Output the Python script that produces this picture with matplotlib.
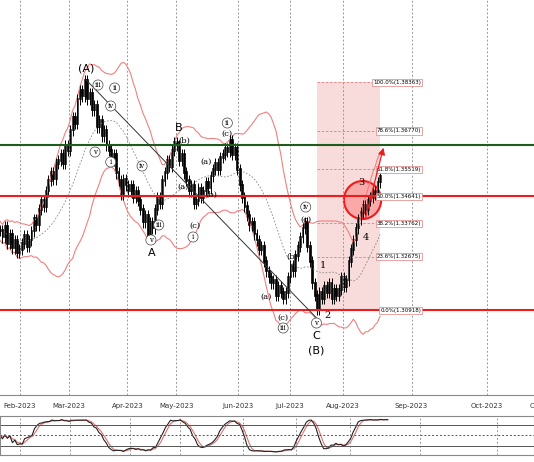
import matplotlib
matplotlib.use("Agg")
import matplotlib.pyplot as plt
from matplotlib.patches import Rectangle, Ellipse
import numpy as np
import pandas as pd

# daily closes
closes = [1.3352, 1.3330, 1.3365, 1.3310, 1.3340, 1.3295, 1.3320, 1.3280, 1.3290,
          1.3310, 1.3335, 1.3300, 1.3320, 1.3350, 1.3390, 1.3370, 1.3420,
          1.3450, 1.3430, 1.3480, 1.3515, 1.3540, 1.3520, 1.3570, 1.3580,
          1.3600, 1.3570, 1.3630, 1.3613, 1.3680, 1.3720, 1.3700, 1.3780,
          1.3810, 1.3790, 1.3840, 1.3780, 1.3800, 1.3745, 1.3760, 1.3690, 1.3712,
          1.3660, 1.3680, 1.3630, 1.3613, 1.3580, 1.3600, 1.3540, 1.3515,
          1.3470, 1.3520, 1.3500, 1.3480, 1.3500, 1.3460, 1.3480, 1.3450,
          1.3420, 1.3380, 1.3400, 1.3336, 1.3380, 1.3360, 1.3420,
          1.3460, 1.3440, 1.3515, 1.3540, 1.3580, 1.3560, 1.3613, 1.3640, 1.3630,
          1.3580, 1.3600, 1.3540, 1.3515, 1.3480, 1.3500, 1.3440, 1.3450,
          1.3490, 1.3460, 1.3480, 1.3510, 1.3490, 1.3530, 1.3550,
          1.3570, 1.3550, 1.3590, 1.3600, 1.3620, 1.3610, 1.3646,
          1.3600, 1.3620, 1.3550, 1.3500, 1.3460, 1.3430, 1.3401,
          1.3370, 1.3380, 1.3340, 1.3320, 1.3290, 1.3300, 1.3250, 1.3220,
          1.3200, 1.3180, 1.3190, 1.3140, 1.3170, 1.3150, 1.3130, 1.3150,
          1.3200, 1.3240, 1.3220, 1.3270, 1.3300, 1.3330, 1.3360, 1.3380,
          1.3300, 1.3250, 1.3180, 1.3140, 1.3095, 1.3150, 1.3130, 1.3170, 1.3150,
          1.3180, 1.3130, 1.3160, 1.3140, 1.3160, 1.3200, 1.3170, 1.3190,
          1.3250, 1.3290, 1.3320, 1.3360, 1.3390, 1.3410, 1.3434,
          1.3420, 1.3450, 1.3460, 1.3480, 1.3470, 1.3510, 1.3530]

months = ["Feb-2023", "Mar-2023", "Apr-2023", "May-2023", "Jun-2023",
          "Jul-2023", "Aug-2023", "Sep-2023", "Oct-2023", "Oc"]
month_px = [20, 70, 130, 180, 243, 296, 350, 420, 497, 545]

fib_pct = ["100.0%", "78.6%", "61.8%", "50.0%", "38.2%", "23.6%", "0.0%"]
fib_price = [1.38363, 1.36770, 1.35519, 1.34641, 1.33762, 1.32675, 1.30918]
green_level = 1.3630
red_levels = [1.34641, 1.30918]


def X(px):
    # screen column -> bar index
    return px / 2.47


def Y(py):
    return 1.4104 - py * 0.000326


s = pd.Series(closes)
idx = np.arange(len(s))
opens = s.shift(1).fillna(s.iloc[0])
hi = np.maximum(s, opens) + 0.0018
lo = np.minimum(s, opens) - 0.0018
mid = s.rolling(20, min_periods=1).mean()
sd = s.rolling(20, min_periods=2).std().bfill()
up, dn = mid + 2 * sd, mid - 2 * sd
hh = hi.rolling(14, min_periods=1).max()
ll = lo.rolling(14, min_periods=1).min()
k = ((s - ll) / (hh - ll) * 100).rolling(3, min_periods=1).mean()
d = k.rolling(3, min_periods=1).mean()

fig = plt.figure(figsize=(5.34, 4.62), dpi=100)
ax = fig.add_axes([0, 0.145, 1, 0.855])
ax2 = fig.add_axes([0, 0.015, 1, 0.085])

for a in (ax, ax2):
    a.set_xlim(X(0), X(534))
    for m in month_px:
        a.axvline(X(m), color="#999999", ls=(0, (2, 2)), lw=0.7)
ax.set_ylim(Y(395), Y(0))

# fib box
fb0, fb1 = X(324), X(388)
ax.add_patch(Rectangle((fb0, fib_price[-1]), fb1 - fb0, fib_price[0] - fib_price[-1],
                       color="#f7d5d5", alpha=0.85, lw=0))
for p, lab in zip(fib_pct, fib_price):
    ax.plot([fb0, fb1], [lab, lab], color="#e08080", ls=(0, (3, 2)), lw=0.6)
    ax.text(X(430), lab, f"{p}({lab:.5f})", fontsize=4, va="center", ha="right",
            bbox=dict(fc="white", ec="#e08080", lw=0.5, pad=0.8))

ax.plot(idx, up, color="#f08080", lw=0.8)
ax.plot(idx, dn, color="#f08080", lw=0.8)
ax.plot(idx, mid, color="#888888", lw=0.6, ls=(0, (2, 2)))
ax.vlines(idx, lo, hi, color="black", lw=0.7)
body = (s - opens).abs() + 0.0005
ax.bar(idx, body, bottom=np.minimum(s, opens), width=0.75,
       color=np.where(s >= opens, "white", "black"), edgecolor="black", lw=0.5)

ax.axhline(green_level, color="#1e5c1e", lw=1.5)
for r in red_levels:
    ax.axhline(r, color="#ee1c1c", lw=1.5)

ax.plot([X(88), X(325)], [Y(80), Y(320)], color="#333333", lw=0.7)
ax.add_patch(Ellipse((X(370), Y(200)), 38 / 2.47, 38 * 0.000326,
                     fc=(1, 0.3, 0.3, 0.35), ec="#ee1c1c", lw=1.5))
ax.annotate("", xy=(X(392), Y(145)), xytext=(X(372), Y(222)),
            arrowprops=dict(arrowstyle="-|>", color="#ee1c1c", lw=0.9))

labels = [("(A)", 88, 68, 8, False), ("B", 182, 128, 8, False),
          ("A", 155, 253, 8, False), ("C", 323, 336, 8, False),
          ("(B)", 323, 350, 8, False), ("1", 330, 265, 7, False),
          ("2", 334, 315, 7, False), ("3", 369, 182, 7, False),
          ("4", 373, 237, 7, False),
          ("(a)", 210, 162, 6, False), ("(b)", 188, 141, 6, False),
          ("(c)", 232, 134, 6, False), ("(c)", 312, 220, 6, False),
          ("(b)", 298, 257, 6, False), ("(a)", 272, 297, 6, False),
          ("(a)", 187, 187, 6, False), ("(b)", 216, 195, 6, False),
          ("(c)", 289, 318, 6, False), ("(c)", 199, 226, 6, False),
          ("ii", 232, 123, 5, True), ("iv", 312, 207, 5, True),
          ("v", 323, 323, 5, True), ("iii", 289, 328, 5, True),
          ("ii", 117, 88, 5, True), ("iii", 100, 85, 5, True),
          ("iv", 113, 106, 5, True), ("v", 97, 152, 5, True),
          ("i", 113, 162, 5, True), ("iv", 145, 166, 5, True),
          ("iii", 162, 225, 5, True), ("v", 154, 240, 5, True),
          ("i", 197, 237, 5, True)]
for txt, xp, yp, fs, circ in labels:
    ax.text(X(xp), Y(yp), txt, fontsize=fs, ha="center", va="center",
            fontfamily="DejaVu Serif" if fs < 8 else "DejaVu Sans",
            bbox=dict(boxstyle="circle,pad=0.15", fc="white", ec="#444444", lw=0.5) if circ else None)

ax.set_xticks([X(m) for m in month_px])
ax.set_xticklabels(months)
ax.tick_params(axis="x", labelsize=5, length=0, pad=6, colors="#333333")
ax.tick_params(axis="y", left=False, labelleft=False)
for sp in ax.spines.values():
    sp.set_visible(False)
ax.spines["bottom"].set_visible(True)
ax.spines["bottom"].set_color("#888888")

ax2.plot(idx, d, color="#e07070", lw=0.8)
ax2.plot(idx, k, color="#222222", lw=0.8)
ax2.set_ylim(-5, 105)
for lvl, st in [(80, "-"), (50, (0, (2, 2))), (20, "-")]:
    ax2.axhline(lvl, color="#555555", lw=0.7, ls=st)
ax2.set_xticks([])
ax2.set_yticks([])
for sp in ax2.spines.values():
    sp.set_color("#888888")

fig.savefig("out.png", dpi=100)
